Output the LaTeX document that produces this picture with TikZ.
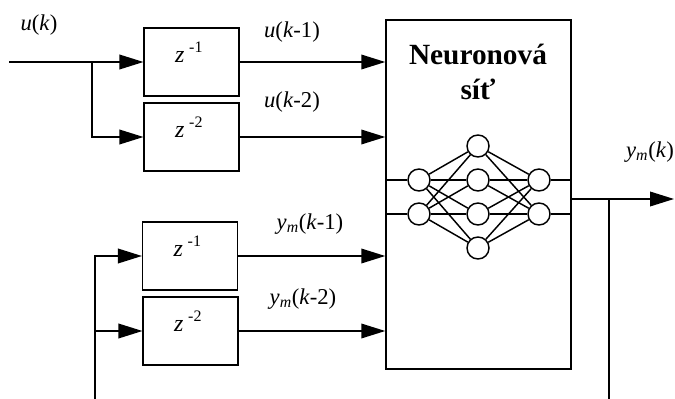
\documentclass[tikz,border=0pt]{standalone}
\usepackage{fontspec}
\setmainfont{Liberation Serif}
\usetikzlibrary{arrows.meta}

\tikzset{
  delaybox/.style={draw, minimum width=71pt, minimum height=51pt, inner sep=0pt,
    text depth=15pt, font=\fontsize{18}{20}\selectfont},
  neuron/.style={draw, circle, fill=white, minimum size=16.5pt, inner sep=0pt},
  sig/.style={-{Triangle[length=18pt,width=11pt]}},
  lbl/.style={font=\fontsize{17}{20}\selectfont, inner sep=0pt}
}
\newcommand{\zdel}[1]{\textit{z}\hspace{3.5pt}\raisebox{7.5pt}{\fontsize{12}{14}\selectfont -#1}\hspace*{4pt}}

\begin{document}
\begin{tikzpicture}[x=0.75pt, y=-0.75pt, line width=1.1pt]
    \useasboundingbox (0,0) rectangle (675,399);

    % Delay blocks
    \node[delaybox] (d1) at (191.5,62) {\zdel{1}};
    \node[delaybox] (d2) at (191.5,137) {\zdel{2}};
    \node[delaybox] (d3) at (190,256) {\zdel{1}};
    \node[delaybox] (d4) at (190.5,331) {\zdel{2}};

    % Network block
    \node[draw, minimum width=138.75pt, minimum height=261.75pt] (nn) at (478.5,194.5) {};
    \node[font=\fontsize{22}{26}\selectfont\bfseries, align=center] (title) at (478,72) {Neuronová\\síť};

    % Neurons
    \node[neuron] (i1) at (419,180) {};
    \node[neuron] (i2) at (419,214) {};
    \node[neuron] (h1) at (478,146) {};
    \node[neuron] (h2) at (478,180) {};
    \node[neuron] (h3) at (478,214) {};
    \node[neuron] (h4) at (478,248) {};
    \node[neuron] (o1) at (539,180) {};
    \node[neuron] (o2) at (539,214) {};
    \foreach \i in {1,2}
        \foreach \h in {1,...,4} {
            \draw (i\i) -- (h\h);
            \draw (h\h) -- (o\i);
        }
    \draw (nn.west |- i1) -- (i1.west);
    \draw (nn.west |- i2) -- (i2.west);
    \draw (o1.east) -- (nn.east |- o1);
    \draw (o2.east) -- (nn.east |- o2);

    % Input u(k)
    \coordinate (uin) at (9,62);
    \coordinate (usplit) at (92,62);
    \draw[sig] (uin) -- (d1.west);
    \draw[sig] (usplit) |- (d2.west);
    \draw[sig] (d1.east) -- (nn.west |- d1.east);
    \draw[sig] (d2.east) -- (nn.west |- d2.east);

    % Feedback y_m(k)
    \coordinate (fb) at (95,399);
    \coordinate (fbsplit) at (95,331);
    \draw[sig] (fb) |- (d3.west);
    \draw[sig] (fbsplit) -- (d4.west);
    \draw[sig] (d3.east) -- (nn.west |- d3.east);
    \draw[sig] (d4.east) -- (nn.west |- d4.east);

    % Output
    \coordinate (yout) at (674,199);
    \coordinate (ysplit) at (609,199);
    \coordinate (yback) at (609,399);
    \draw[sig] (nn.east |- yout) -- (yout);
    \draw (ysplit) -- (yback);

    % Labels
    \node[lbl] (lu) at (39,25) {\textit{u}(\textit{k})};
    \node[lbl] (lu1) at (292,32) {\textit{u}(\textit{k}-1)};
    \node[lbl] (lu2) at (292,102) {\textit{u}(\textit{k}-2)};
    \node[lbl] (ly1) at (310,224) {\textit{y\textsubscript{m}}(\textit{k}-1)};
    \node[lbl] (ly2) at (303,299) {\textit{y\textsubscript{m}}(\textit{k}-2)};
    \node[lbl] (ly) at (650,152) {\textit{y\textsubscript{m}}(\textit{k})};
\end{tikzpicture}
\end{document}
